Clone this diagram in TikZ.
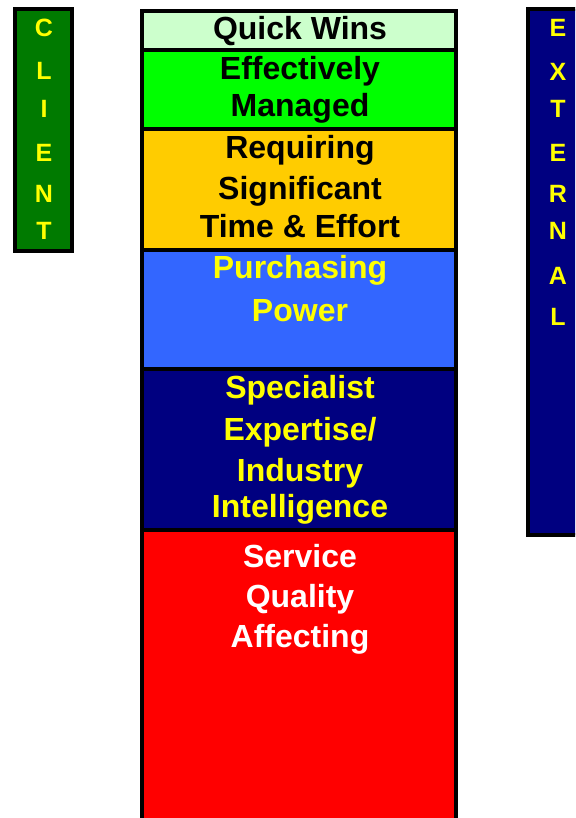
\documentclass[tikz,border=0pt]{standalone}
\usepackage{fontspec}
\setmainfont{Liberation Sans}
\definecolor{qwc}{HTML}{CCFFCC}
\definecolor{emc}{HTML}{00FF00}
\definecolor{rqc}{HTML}{FFCC00}
\definecolor{ppc}{HTML}{3366FF}
\definecolor{spc}{HTML}{000080}
\definecolor{sqc}{HTML}{FF0000}
\definecolor{clc}{HTML}{007A00}
\definecolor{ylc}{HTML}{FFFF00}
\begin{document}
\begin{tikzpicture}[x=1pt,y=-1pt]
\useasboundingbox (0,0) rectangle (575,818);
\clip (0,0) rectangle (575,818);
\tikzset{
  big/.style={font=\fontsize{32}{38}\selectfont\bfseries, anchor=base, inner sep=0},
  letter/.style={font=\fontsize{25}{30}\selectfont\bfseries, text=ylc, anchor=base, inner sep=0},
  frame/.style={draw=black, line width=4pt}
}
% side boxes
\fill[clc] (15,9) rectangle (72,251);
\draw[frame] (15,9) rectangle (72,251);
\fill[spc] (528,9) rectangle (595,535);
\draw[frame] (528,9) rectangle (595,535);
% main column fills
\fill[qwc] (142,11) rectangle (456,50);
\fill[emc] (142,50) rectangle (456,129);
\fill[rqc] (142,129) rectangle (456,250);
\fill[ppc] (142,250) rectangle (456,369);
\fill[spc] (142,369) rectangle (456,530);
\fill[sqc] (142,530) rectangle (456,830);
\draw[frame] (142,11) rectangle (456,830);
\foreach \yy in {50,129,250,369,530} \draw[frame] (142,\yy) -- (456,\yy);
% texts
\node[big] (qw) at (300,40) {Quick Wins};
\node[big] (em1) at (300,80) {Effectively};
\node[big] (em2) at (300,117) {Managed};
\node[big] (rq1) at (300,159) {Requiring};
\node[big] (rq2) at (300,200) {Significant};
\node[big] (rq3) at (300,237) {Time \& Effort};
\node[big, text=ylc] (pp1) at (300,278) {Purchasing};
\node[big, text=ylc] (pp2) at (300,321) {Power};
\node[big, text=ylc] (sp1) at (300,398) {Specialist};
\node[big, text=ylc] (sp2) at (300,440) {Expertise/};
\node[big, text=ylc] (sp3) at (300,481) {Industry};
\node[big, text=ylc] (sp4) at (300,517) {Intelligence};
\node[big, text=white] (sq1) at (300,567) {Service};
\node[big, text=white] (sq2) at (300,607) {Quality};
\node[big, text=white] (sq3) at (300,647) {Affecting};
% client letters
\node[letter] (c1) at (44,37) {C};
\node[letter] (c2) at (44,80) {L};
\node[letter] (c3) at (44,118) {I};
\node[letter] (c4) at (44,162) {E};
\node[letter] (c5) at (44,203) {N};
\node[letter] (c6) at (44,240) {T};
% external letters
\node[letter] (e1) at (558,37) {E};
\node[letter] (e2) at (558,81) {X};
\node[letter] (e3) at (558,118) {T};
\node[letter] (e4) at (558,162) {E};
\node[letter] (e5) at (558,203) {R};
\node[letter] (e6) at (558,240) {N};
\node[letter] (e7) at (558,284) {A};
\node[letter] (e8) at (558,325) {L};
\end{tikzpicture}
\end{document}
